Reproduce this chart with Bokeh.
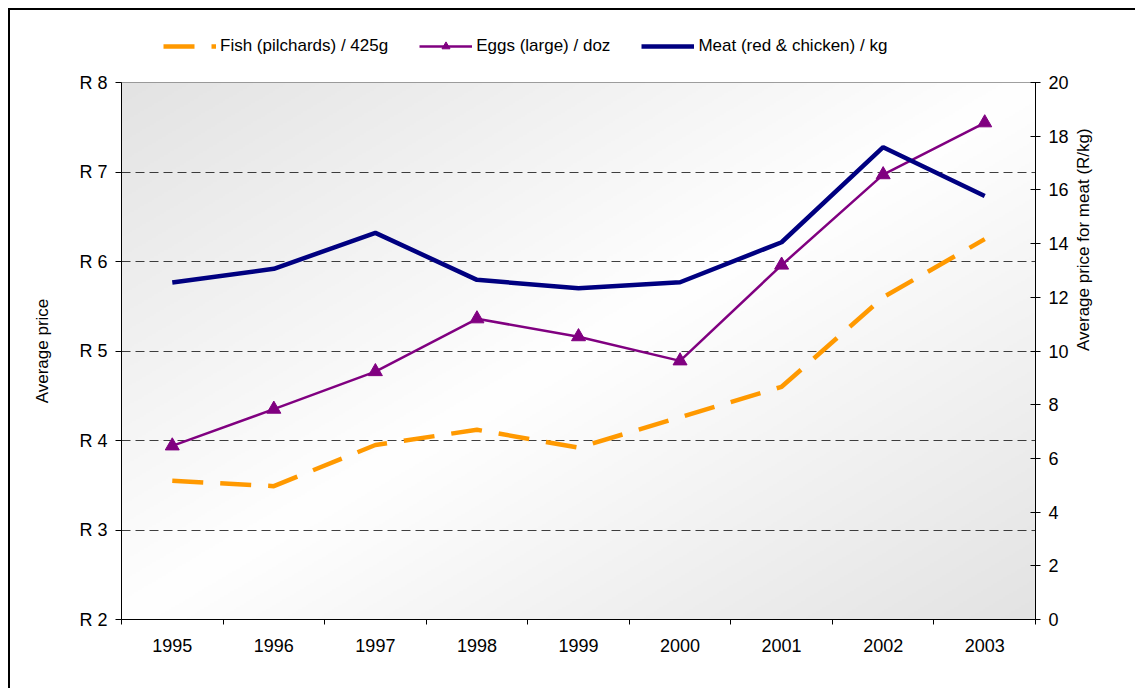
import math
import numpy as np
from bokeh.plotting import figure
from bokeh.layouts import column
from bokeh.models import (Range1d, LinearAxis, FixedTicker, Legend, LegendItem)
from bokeh.embed import file_html
from bokeh.resources import INLINE

years = ["1995", "1996", "1997", "1998", "1999", "2000", "2001", "2002", "2003"]
fish = [3.55, 3.49, 3.95, 4.12, 3.92, 4.26, 4.60, 5.60, 6.25]
eggs = [3.94, 4.35, 4.77, 5.36, 5.16, 4.89, 5.96, 6.97, 7.55]
meat = [12.55, 13.06, 14.40, 12.65, 12.34, 12.56, 14.05, 17.59, 15.77]
left_ticks = [2, 3, 4, 5, 6, 7, 8]
left_labels = ["R 2", "R 3", "R 4", "R 5", "R 6", "R 7", "R 8"]
right_ticks = [0, 2, 4, 6, 8, 10, 12, 14, 16, 18, 20]
series_names = ["Fish (pilchards) / 425g", "Eggs (large) / doz", "Meat (red & chicken) / kg"]

FONT = "Liberation Sans"
FISH_C, EGGS_C, MEAT_C = "#FF9900", "#800080", "#000080"
xs = [i + 0.5 for i in range(len(years))]

p = figure(frame_width=914, frame_height=537, output_backend="svg", toolbar_location=None,
           x_range=Range1d(0, len(years)), y_range=Range1d(2, 8),
           min_border_left=111, min_border_top=12, min_border_right=100,
           min_border_bottom=69)
p.background_fill_color = "white"
p.border_fill_color = "white"
p.outline_line_color = "#808080"
p.outline_line_width = 1

# background gradient (decorative)
H, W = 270, 460
fx = np.linspace(0, 1, W)[None, :]
fy = np.linspace(0, 1, H)[:, None]
u = np.abs(fx - fy)
g = (255 - (255 - 227) * u).astype(np.uint8)
img = np.empty((H, W), dtype=np.uint32)
view = img.view(dtype=np.uint8).reshape((H, W, 4))
view[:, :, 0] = g
view[:, :, 1] = g
view[:, :, 2] = g
view[:, :, 3] = 255
p.image_rgba(image=[img], x=0, y=2, dw=len(years), dh=6, level="image")

p.extra_y_ranges = {"meat": Range1d(0, 20)}

# grid
p.xgrid.visible = False
p.ygrid.ticker = FixedTicker(ticks=[3, 4, 5, 6, 7])
p.ygrid.grid_line_color = "black"
p.ygrid.grid_line_alpha = 0.75
p.ygrid.grid_line_dash = "9 5"
p.ygrid.grid_line_width = 1

# x axis
xa = p.xaxis[0]
xa.ticker = FixedTicker(ticks=xs, minor_ticks=list(range(len(years) + 1)))
xa.major_label_overrides = {x: y for x, y in zip(xs, years)}
xa.major_tick_out = 0
xa.major_tick_in = 0
xa.minor_tick_out = 5
xa.minor_tick_in = 0
xa.minor_tick_line_color = "black"
xa.axis_line_color = "black"
xa.major_label_standoff = 14
xa.major_label_text_font = FONT
xa.major_label_text_font_size = "18px"
xa.major_label_text_color = "black"

# left axis
ya = p.yaxis[0]
ya.ticker = FixedTicker(ticks=left_ticks, minor_ticks=[])
ya.major_label_overrides = {t: l for t, l in zip(left_ticks, left_labels)}
ya.major_tick_out = 6
ya.major_tick_in = 0
ya.minor_tick_out = 0
ya.minor_tick_in = 0
ya.axis_line_color = "black"
ya.major_label_standoff = 8
ya.major_label_text_font = FONT
ya.major_label_text_font_size = "18px"
ya.major_label_text_color = "black"
ya.axis_label = "Average price"
ya.axis_label_text_font = FONT
ya.axis_label_text_font_size = "17px"
ya.axis_label_text_font_style = "normal"
ya.axis_label_text_color = "black"
ya.axis_label_standoff = 24

# right axis
ra = LinearAxis(y_range_name="meat", ticker=FixedTicker(ticks=right_ticks, minor_ticks=[]))
ra.major_tick_out = 5
ra.major_tick_in = 5
ra.minor_tick_out = 0
ra.minor_tick_in = 0
ra.axis_line_color = "black"
ra.major_label_standoff = 8
ra.major_label_text_font = FONT
ra.major_label_text_font_size = "18px"
ra.major_label_text_color = "black"
ra.axis_label = "Average price for meat (R/kg)"
ra.axis_label_orientation = math.pi / 2
ra.axis_label_text_font = FONT
ra.axis_label_text_font_size = "17px"
ra.axis_label_text_font_style = "normal"
ra.axis_label_text_color = "black"
ra.axis_label_standoff = 12
p.add_layout(ra, "right")

# series
p.line(xs, fish, line_color=FISH_C, line_width=4.5, line_dash="31 17")
p.line(xs, eggs, line_color=EGGS_C, line_width=2.5)
p.scatter(xs, eggs, marker="triangle", size=14, fill_color=EGGS_C, line_color=EGGS_C)
p.line(xs, meat, line_color=MEAT_C, line_width=4.5, y_range_name="meat")

# legend strip (separate figure above the chart; its series lie outside its view)
lg = figure(width=1125, height=60, output_backend="svg", toolbar_location=None,
            x_range=Range1d(0, len(years)), y_range=Range1d(100, 101),
            x_axis_location=None, y_axis_location=None,
            min_border_left=0, min_border_right=0, min_border_top=0, min_border_bottom=0)
lg.outline_line_color = None
lg.grid.visible = False
lg.background_fill_color = "white"
lg.border_fill_color = "white"
l_fish = lg.line(xs, fish, line_color=FISH_C, line_width=4.5, line_dash="31 17")
l_eggs = lg.line(xs, eggs, line_color=EGGS_C, line_width=2.5)
l_eggs_m = lg.scatter(xs, eggs, marker="triangle", size=14, fill_color=EGGS_C, line_color=EGGS_C)
l_meat = lg.line(xs, meat, line_color=MEAT_C, line_width=4.5)

legend = Legend(items=[
    LegendItem(label=series_names[0], renderers=[l_fish]),
    LegendItem(label=series_names[1], renderers=[l_eggs, l_eggs_m]),
    LegendItem(label=series_names[2], renderers=[l_meat]),
], orientation="horizontal", location=(42, 14))
legend.padding = 0
legend.margin = 0
legend.spacing = 31
legend.glyph_width = 53
legend.glyph_height = 20
legend.label_height = 20
legend.label_standoff = 4
legend.label_text_font = FONT
legend.label_text_font_size = "17px"
legend.label_text_color = "black"
legend.border_line_color = None
legend.background_fill_alpha = 0
lg.add_layout(legend, "center")

layout = column(lg, p, spacing=0)
layout.styles = {"margin-left": "8px", "margin-top": "8px",
                 "border-left": "2px solid black", "border-top": "2px solid black"}

open("out.html", "w").write(file_html(layout, INLINE))
